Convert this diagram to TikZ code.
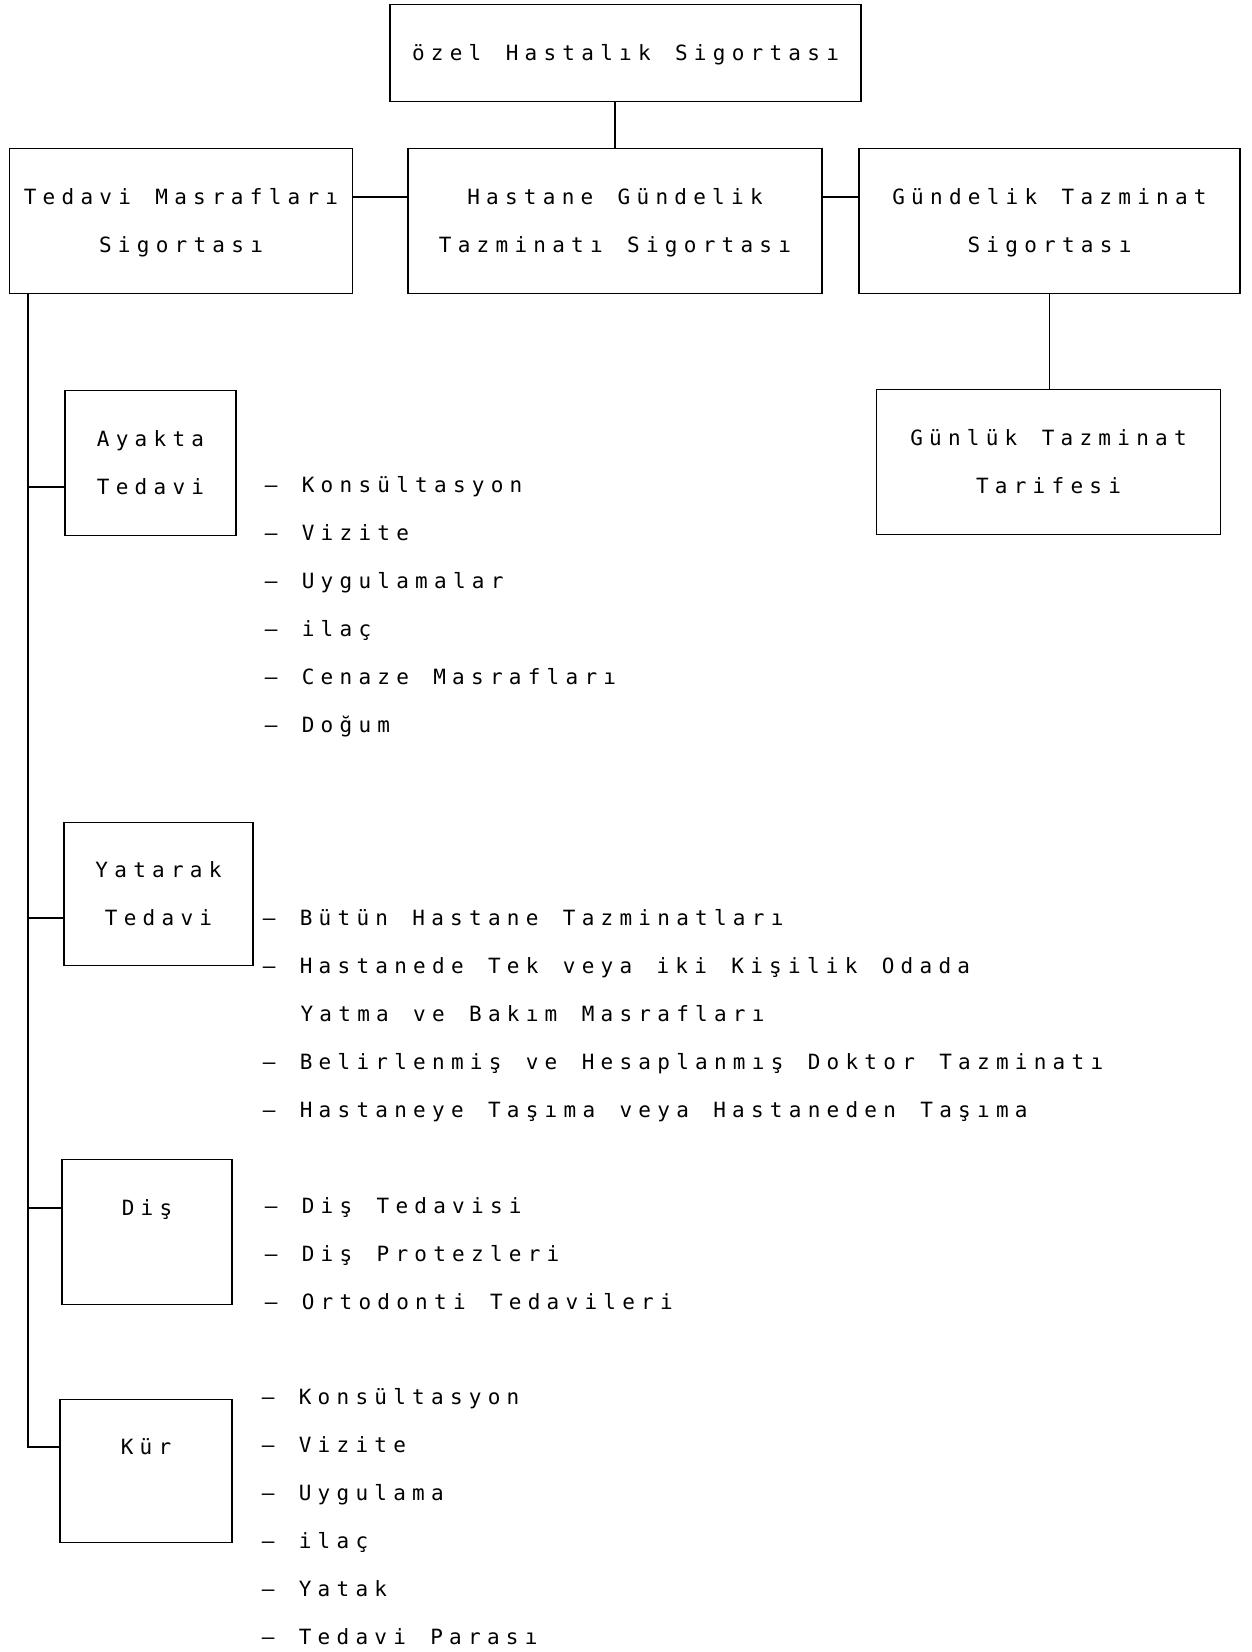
\documentclass[tikz,border=0pt]{standalone}
\usepackage{fontspec}
\newfontfamily\dotfont[LetterSpace=29.8,WordSpace={1.29,0,0}]{DejaVu Sans Mono}
\newcommand{\dotsize}{\dotfont\fontsize{21pt}{48pt}\selectfont}
\newcommand{\rowstrut}{\rule[-9pt]{0pt}{33pt}}
\begin{document}
\begin{tikzpicture}[x=1pt,y=-1pt,line width=1.6pt,
    box/.style={draw,align=center,inner sep=0pt,font=\dotsize},
    item/.style={anchor=west,inner sep=0pt,text height=15.3pt,text depth=0pt,font=\dotsize}]
  \useasboundingbox (0,0) rectangle (1252,1652);
  % boxes
  \draw
    (625.5,53) node[box,minimum width=471pt,minimum height=97pt] (ozel){\rowstrut özel Hastalık Sigortası}
    (181,221) node[box,minimum width=343pt,minimum height=145pt] (tms){\rowstrut Tedavi Masrafları\\\rowstrut Sigortası}
    (615,221) node[box,minimum width=414pt,minimum height=145pt] (hgt){\rowstrut Hastane Gündelik\\\rowstrut Tazminatı Sigortası}
    (1049.5,221) node[box,minimum width=381pt,minimum height=145pt] (gts){\rowstrut Gündelik Tazminat\\\rowstrut Sigortası}
    (1048.5,462) node[box,minimum width=344pt,minimum height=145pt] (gtt){\rowstrut Günlük Tazminat\\\rowstrut Tarifesi}
    (150.5,463) node[box,minimum width=171pt,minimum height=145pt] (ayk){\rowstrut Ayakta\\\rowstrut Tedavi}
    (158.5,894) node[box,minimum width=189pt,minimum height=143pt] (yat){\rowstrut Yatarak\\\rowstrut Tedavi}
    (147,1232) node[box,minimum width=170pt,minimum height=145pt] (dis){\rowstrut Diş\\\rowstrut}
    (146,1471) node[box,minimum width=172pt,minimum height=143pt] (kur){\rowstrut Kür\\\rowstrut};
  \coordinate (trunk) at ([xshift=19pt]tms.south west);
  % ayakta tedavi
  \draw
    (264,485) node[item] (a1){– Konsültasyon}
    (264,533) node[item] (a2){– Vizite}
    (264,581) node[item] (a3){– Uygulamalar}
    (264,629) node[item] (a4){– ilaç}
    (264,677) node[item] (a5){– Cenaze Masrafları}
    (264,725) node[item] (a6){– Doğum};
  % yatarak tedavi
  \draw
    (262,918) node[item] (y1){– Bütün Hastane Tazminatları}
    (262,966) node[item] (y2){– Hastanede Tek veya iki Kişilik Odada}
    (299.8,1014) node[item] (y3){Yatma ve Bakım Masrafları}
    (262,1062) node[item] (y4){– Belirlenmiş ve Hesaplanmış Doktor Tazminatı}
    (262,1110) node[item] (y5){– Hastaneye Taşıma veya Hastaneden Taşıma};
  % dis
  \draw
    (264,1206) node[item] (d1){– Diş Tedavisi}
    (264,1254) node[item] (d2){– Diş Protezleri}
    (264,1302) node[item] (d3){– Ortodonti Tedavileri};
  % kur
  \draw
    (261,1397) node[item] (k1){– Konsültasyon}
    (261,1445) node[item] (k2){– Vizite}
    (261,1493) node[item] (k3){– Uygulama}
    (261,1541) node[item] (k4){– ilaç}
    (261,1589) node[item] (k5){– Yatak}
    (261,1637) node[item] (k6){– Tedavi Parası};
  \begin{scope}[-]
    \draw (hgt.north) to (hgt.north |- ozel.south);
    \draw ([yshift=24pt]tms.east) to ([yshift=24pt]hgt.west);
    \draw ([yshift=24pt]hgt.east) to ([yshift=24pt]gts.west);
    \draw (gts.south) to (gts.south |- gtt.north);
    \draw (trunk) |- ([yshift=24pt]kur.west);
    \draw ([yshift=-24pt]ayk.west) to ([yshift=-24pt]ayk.west -| trunk);
    \draw ([yshift=-24pt]yat.west) to ([yshift=-24pt]yat.west -| trunk);
    \draw ([yshift=24pt]dis.west) to ([yshift=24pt]dis.west -| trunk);
  \end{scope}
\end{tikzpicture}
\end{document}
